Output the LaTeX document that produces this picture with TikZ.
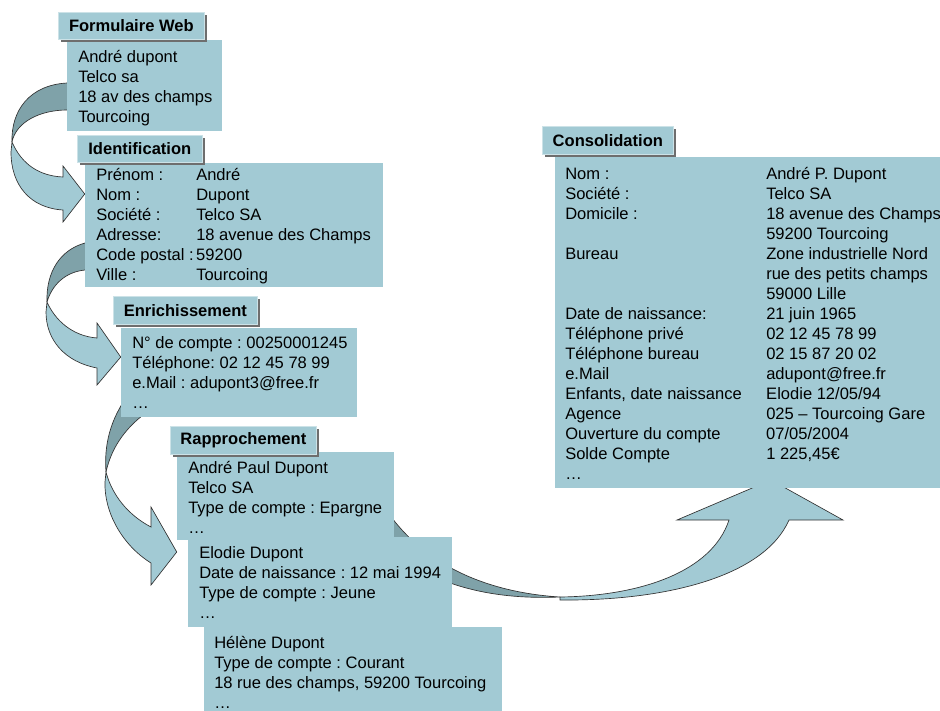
\documentclass[tikz,border=0pt]{standalone}
\usepackage{fontspec}
\setmainfont{Liberation Sans}
\usetikzlibrary{fit,shadows}

\definecolor{boxblue}{RGB}{162,202,212}
\definecolor{backblue}{RGB}{127,162,169}
\definecolor{shadowgray}{RGB}{110,110,110}
\newcommand{\diagfont}{\fontsize{12.4}{15}\selectfont\frenchspacing}

\tikzset{
  body/.style={fill=boxblue, draw=none, inner sep=0pt},
  header/.style={fill=boxblue, draw=boxblue!55!white, line width=0.5pt,
    inner sep=0pt, anchor=north west, font=\diagfont\bfseries,
    drop shadow={shadow xshift=2.3pt, shadow yshift=-2.3pt, fill=shadowgray, opacity=1}},
  txt/.style={inner sep=0pt, anchor=base west, font=\diagfont},
  ribbonback/.style={fill=backblue, draw=black!80, line width=0.5pt, line join=round},
  ribbonfront/.style={fill=boxblue, draw=black!80, line width=0.5pt, line join=miter},
}

\begin{document}
\begin{tikzpicture}[x=0.75pt, y=-0.75pt]
\useasboundingbox (0,0) rectangle (940,711);

% ---------- box placement (bodies first, used by the ribbons) ----------
\path node[body, fit={(67,40) (222,131)}] (web) {}
      node[body, fit={(85,163) (383,287)}] (ident) {}
      node[body, fit={(121,328) (357,417)}] (enrich) {}
      node[body, fit={(177,452) (394,540)}] (rap1) {}
      node[body, fit={(188,537) (452,627)}] (rap2) {}
      node[body, fit={(204,627) (502,713)}] (rap3) {}
      node[body, fit={(555,157) (942,488)}] (cons) {};

% ---------- curved ribbon arrows ----------
\coordinate (tipA) at (ident.west |- 0,194);
\coordinate (tipB) at (enrich.west |- 0,357);
\coordinate (tipC) at (rap1.west |- 0,552);
\coordinate (tipD) at (771,480);

% Formulaire Web -> Identification
\draw[ribbonback] (90,83) -- (67,83) .. controls (30,85) and (11,110) .. (12,142)
  .. controls (16,122) and (40,110) .. (67,110) -- (90,110) -- cycle;
\draw[ribbonfront] (12,142) .. controls (22,165) and (40,176) .. (63,177)
  -- (63,166) -- (tipA) -- (63,222) -- (63,210)
  .. controls (30,208) and (11,185) .. (11,152) -- cycle;

% Identification -> Enrichissement
\draw[ribbonback] (100,243) -- (85,243) .. controls (60,250) and (46,272) .. (47,302)
  .. controls (52,285) and (65,272) .. (85,270) -- (100,270) -- cycle;
\draw[ribbonfront] (47,302) .. controls (55,320) and (72,336) .. (97,338)
  -- (97,323) -- (tipB) -- (97,385) -- (97,368)
  .. controls (65,362) and (46,340) .. (46,312) -- cycle;

% Enrichissement -> Rapprochement
\draw[ribbonback] (128,395) .. controls (110,420) and (104,445) .. (106,472)
  .. controls (112,445) and (128,425) .. (150,410) -- cycle;
\draw[ribbonfront] (106,472) .. controls (112,495) and (128,515) .. (151,527)
  -- (151,507) -- (tipC) -- (151,585) -- (151,563)
  .. controls (122,545) and (104,512) .. (105,482) -- cycle;

% Rapprochement -> Consolidation
\draw[ribbonback] (380,500) .. controls (415,560) and (480,592) .. (560,597)
  .. controls (490,600) and (430,585) .. (385,545) -- cycle;
\draw[ribbonfront] (560,597) .. controls (640,596) and (712,572) .. (729,520)
  -- (677,520) -- (tipD) -- (843,520) -- (789,520)
  .. controls (765,575) and (670,601) .. (560,600) -- cycle;

% ---------- boxes drawn over the ribbons ----------
\path node[body, fit={(67,40) (222,131)}] {}
      node[body, fit={(85,163) (383,287)}] {}
      node[body, fit={(121,328) (357,417)}] {}
      node[body, fit={(177,452) (394,540)}] {}
      node[body, fit={(188,537) (452,627)}] {}
      node[body, fit={(204,627) (502,713)}] {}
      node[body, fit={(555,157) (942,488)}] {};

% headers
\node[header, minimum width=109.5pt, minimum height=20.25pt] (hweb) at (58,12) {Formulaire Web};
\node[header, minimum width=93.75pt, minimum height=20.25pt] (hident) at (77,135) {Identification};
\node[header, minimum width=108pt, minimum height=21pt] (henrich) at (113,296) {Enrichissement};
\node[header, minimum width=109.5pt, minimum height=21pt] (hrap) at (170,426) {Rapprochement};
\node[header, minimum width=98.25pt, minimum height=21pt] (hcons) at (542,126) {Consolidation};

% ---------- texts ----------
\node[txt] (twebt) at (78,62) {\begin{tabular}[t]{@{}l@{}}
André dupont\\ Telco sa\\ 18 av des champs\\ Tourcoing\end{tabular}};

\node[txt] (tident) at (96,180) {\begin{tabular}[t]{@{}p{75pt}@{}l@{}}
Prénom : & André\\ Nom : & Dupont\\ Société : & Telco SA\\
Adresse: & 18 avenue des Champs\\ Code postal : & 59200\\ Ville : & Tourcoing\end{tabular}};

\node[txt] (tenrich) at (132,348) {\begin{tabular}[t]{@{}l@{}}
N° de compte : 00250001245\\ Téléphone: 02 12 45 78 99\\
e.Mail : adupont3@free.fr\\ …\end{tabular}};

\node[txt] (trap1) at (188,473) {\begin{tabular}[t]{@{}l@{}}
André Paul Dupont\\ Telco SA\\ Type de compte : Epargne\\ …\end{tabular}};

\node[txt] (trap2) at (199,558) {\begin{tabular}[t]{@{}l@{}}
Elodie Dupont\\ Date de naissance : 12 mai 1994\\ Type de compte : Jeune\\ …\end{tabular}};

\node[txt] (trap3) at (214,648) {\begin{tabular}[t]{@{}l@{}}
Hélène Dupont\\ Type de compte : Courant\\ 18 rue des champs, 59200 Tourcoing\\ …\end{tabular}};

\node[txt] (tcons) at (565,179) {\begin{tabular}[t]{@{}p{150.75pt}@{}l@{}}
Nom : & André P. Dupont\\
Société : & Telco SA\\
Domicile : & 18 avenue des Champs\\
 & 59200 Tourcoing\\
Bureau & Zone industrielle Nord\\
 & rue des petits champs\\
 & 59000 Lille\\
Date de naissance: & 21 juin 1965\\
Téléphone privé & 02 12 45 78 99\\
Téléphone bureau & 02 15 87 20 02\\
e.Mail & adupont@free.fr\\
Enfants, date naissance & Elodie 12/05/94\\
Agence & 025 – Tourcoing Gare\\
Ouverture du compte & 07/05/2004\\
Solde Compte & 1 225,45€\\
… & \end{tabular}};
\end{tikzpicture}
\end{document}
